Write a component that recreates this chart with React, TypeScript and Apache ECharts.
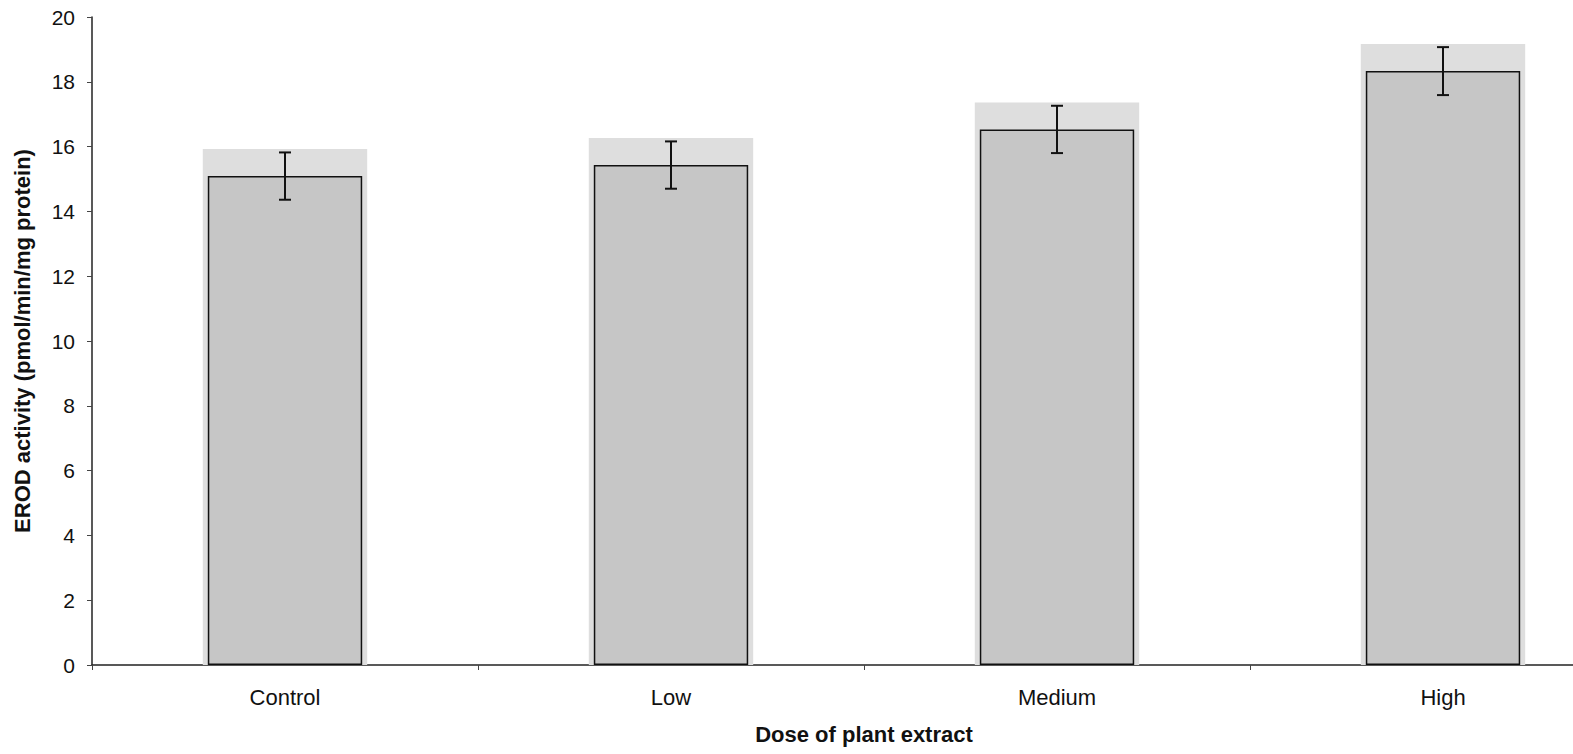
import React, { useEffect, useRef } from "react";
import * as echarts from "echarts";

const categories = ["Control", "Low", "Medium", "High"];
const meanValues = [15.09, 15.43, 16.53, 18.33];
const errorValues = [0.73, 0.73, 0.73, 0.74];
const yTicks = { min: 0, max: 20, interval: 2 };

export default function App() {
  const ref = useRef<HTMLDivElement>(null);

  useEffect(() => {
    document.body.style.margin = "0";
    const chart = echarts.init(ref.current!, undefined, { renderer: "svg" });
    const font = "Arial, 'Liberation Sans', Helvetica, sans-serif";

    const shadowData = meanValues.map((v, i) => [i, v]);
    const errData = meanValues.map((v, i) => [i, v - errorValues[i], v + errorValues[i]]);

    chart.setOption({
      animation: false,
      backgroundColor: "#ffffff",
      grid: { left: 92, top: 17, bottom: 89, right: 4, containLabel: false },
      xAxis: {
        type: "category",
        data: categories,
        name: "Dose of plant extract",
        nameLocation: "middle",
        nameGap: 58,
        nameTextStyle: { fontFamily: font, fontSize: 22, fontWeight: "bold", color: "#111" },
        axisLine: { show: true, lineStyle: { color: "#222", width: 1.5 } },
        axisTick: { show: true, length: 5, lineStyle: { color: "#444", width: 1 } },
        axisLabel: { fontFamily: font, fontSize: 22, color: "#111", margin: 21 },
        splitLine: { show: false },
      },
      yAxis: {
        type: "value",
        min: yTicks.min,
        max: yTicks.max,
        interval: yTicks.interval,
        name: "EROD activity (pmol/min/mg protein)",
        nameLocation: "middle",
        nameGap: 59,
        nameTextStyle: { fontFamily: font, fontSize: 22, fontWeight: "bold", color: "#111" },
        axisLine: { show: true, lineStyle: { color: "#222", width: 1.5 } },
        axisTick: { show: true, length: 5, lineStyle: { color: "#444", width: 1 } },
        axisLabel: { fontFamily: font, fontSize: 21, color: "#111", margin: 17 },
        splitLine: { show: false },
      },
      series: [
        {
          type: "custom",
          z: 1,
          silent: true,
          data: shadowData,
          renderItem: (params: any, api: any) => {
            const idx = api.value(0);
            const top = api.coord([idx, api.value(1)]);
            const base = api.coord([idx, 0]);
            const bw = api.size([1, 0])[0] * 0.4;
            return {
              type: "rect",
              shape: {
                x: top[0] - bw / 2 - 5,
                y: top[1] - 27,
                width: bw + 10,
                height: base[1] - top[1] + 27,
              },
              style: { fill: "#dedede" },
            };
          },
        },
        {
          type: "bar",
          z: 2,
          data: meanValues,
          barWidth: "40%",
          itemStyle: { color: "#c6c6c6", borderColor: "#111", borderWidth: 1.5 },
        },
        {
          type: "custom",
          z: 3,
          silent: true,
          data: errData,
          renderItem: (params: any, api: any) => {
            const idx = api.value(0);
            const lo = api.coord([idx, api.value(1)]);
            const hi = api.coord([idx, api.value(2)]);
            const cap = 6;
            const st = { stroke: "#111", lineWidth: 2 };
            return {
              type: "group",
              children: [
                { type: "line", shape: { x1: lo[0], y1: lo[1], x2: hi[0], y2: hi[1] }, style: st },
                { type: "line", shape: { x1: hi[0] - cap, y1: hi[1], x2: hi[0] + cap, y2: hi[1] }, style: st },
                { type: "line", shape: { x1: lo[0] - cap, y1: lo[1], x2: lo[0] + cap, y2: lo[1] }, style: st },
              ],
            };
          },
        },
      ],
    });

    return () => chart.dispose();
  }, []);

  return (
    <div style={{ width: 1573, height: 754, overflow: "hidden" }}>
      <div ref={ref} style={{ width: 1640, height: 754 }} />
    </div>
  );
}
